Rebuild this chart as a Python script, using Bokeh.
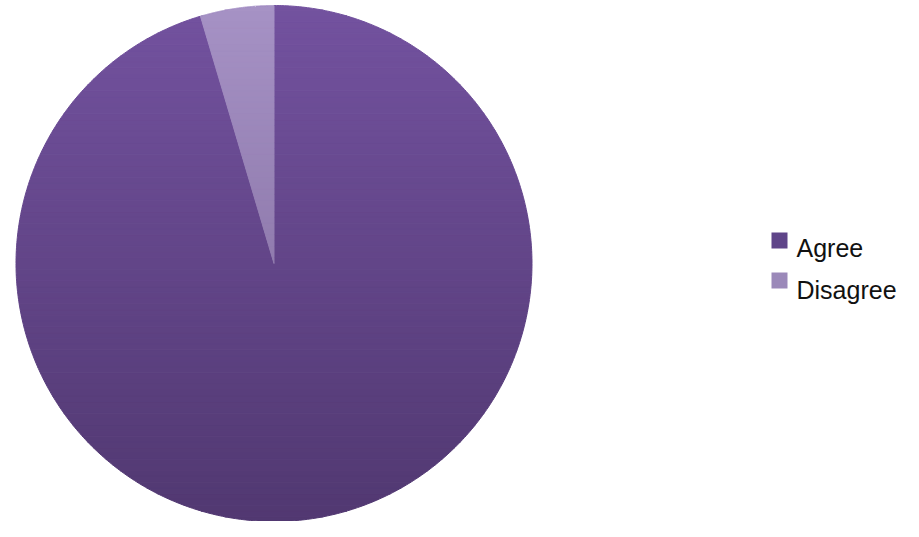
import numpy as np
from bokeh.plotting import figure
from bokeh.models import Range1d
from bokeh.core.properties import value
from bokeh.embed import file_html
from bokeh.resources import INLINE

# ---- data ----
categories = ["Agree", "Disagree"]
shares = [95.4, 4.6]
top_colors = ["#73529f", "#a692c5"]
bottom_colors = ["#513871", "#7b6597"]
legend_colors = ["#5f4589", "#9b89b9"]

W, H = 903, 521
p = figure(width=W, height=H, output_backend="svg", toolbar_location=None,
           x_range=Range1d(0, W), y_range=Range1d(0, H), min_border=0)
p.axis.visible = False
p.grid.visible = False
p.outline_line_color = None
p.background_fill_color = "white"
p.border_fill_color = "white"

# layout in screen pixels (y measured from top)
cx, cy_s, r = 273.5, 263.0, 258.0
cy = H - cy_s


def hex2rgb(h):
    h = h.lstrip("#")
    return np.array([int(h[i:i + 2], 16) for i in (0, 2, 4)], dtype=float)


def rgb2hex(c):
    return "#%02x%02x%02x" % tuple(int(round(v)) for v in c)


def clip(poly, y0, y1):
    def clip_half(pts, inside, inter):
        out = []
        n = len(pts)
        for i in range(n):
            a, b = pts[i - 1], pts[i]
            ia, ib = inside(a), inside(b)
            if ib:
                if not ia:
                    out.append(inter(a, b))
                out.append(b)
            elif ia:
                out.append(inter(a, b))
        return out

    def inter_y(yv):
        def f(a, b):
            t = (yv - a[1]) / (b[1] - a[1])
            return (a[0] + t * (b[0] - a[0]), yv)
        return f

    pts = clip_half(poly, lambda q: q[1] >= y0, inter_y(y0))
    if not pts:
        return []
    pts = clip_half(pts, lambda q: q[1] <= y1, inter_y(y1))
    return pts


# wedges: start at 12 o'clock, Agree clockwise, Disagree fills the rest
fr = np.array(shares) / sum(shares)
ends = np.cumsum(fr)
starts = ends - fr
xs, ys, cols = [], [], []
nb = 90
edges = np.linspace(cy - r - 1, cy + r + 1, nb + 1)
for k in range(len(categories)):
    th = np.pi / 2 - 2 * np.pi * np.linspace(starts[k], ends[k], 600)
    poly = [(cx, cy)] + [(cx + r * np.cos(t), cy + r * np.sin(t)) for t in th]
    ctop, cbot = hex2rgb(top_colors[k]), hex2rgb(bottom_colors[k])
    for i in range(nb):
        y0, y1 = edges[i], edges[i + 1]
        pc = clip(poly, y0, y1)
        if len(pc) < 3:
            continue
        t = ((y0 + y1) / 2 - (cy - r)) / (2 * r)
        c = rgb2hex(cbot + (ctop - cbot) * t)
        xs.append([q[0] for q in pc])
        ys.append([q[1] for q in pc])
        cols.append(c)

p.patches(xs, ys, fill_color=cols, line_color=cols, line_width=1)

# legend (screen-pixel layout)
lx = [779.0, 779.0]
ly = [H - 240, H - 280]
p.scatter(lx, ly, marker="square", size=16, fill_color=legend_colors, line_color=None)
p.text([796, 796], [H - 247, H - 289], text=categories,
       text_font=value("Liberation Sans"), text_font_size="25px",
       text_color="#111111", text_baseline="alphabetic", text_align="left")

open("out.html", "w").write(file_html(p, INLINE))
